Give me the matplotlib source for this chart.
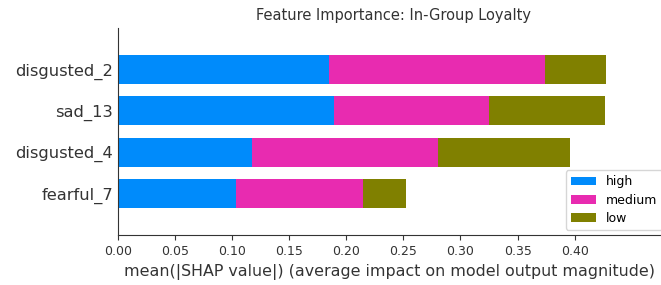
import matplotlib
matplotlib.use("Agg")
import matplotlib.pyplot as plt
import numpy as np

features = ["disgusted_2", "sad_13", "disgusted_4", "fearful_7"]
high = [0.185, 0.1895, 0.1173, 0.1038]
medium = [0.1887, 0.1355, 0.1627, 0.1109]
low = [0.0541, 0.1020, 0.1156, 0.0377]
series_names = ["high", "medium", "low"]
colors = ["#008bfb", "#e82bb0", "#808000"]
xticks = [0.0, 0.05, 0.10, 0.15, 0.20, 0.25, 0.30, 0.35, 0.40]

fig = plt.figure(figsize=(6.61, 2.85), dpi=100)
ax = fig.add_axes([0.1785, 0.175, 0.8325, 0.727])

n = len(features)
ypos = np.arange(n)[::-1]
left = np.zeros(n)
for name, vals, c in zip(series_names, [high, medium, low], colors):
    vals = np.array(vals)
    ax.barh(ypos, vals, left=left, height=0.7, color=c, label=name)
    left += vals

ax.set_ylim(-1, n)
ax.set_xlim(0, 0.482)
ax.set_yticks(ypos)
ax.set_yticklabels(features, fontsize=11.7, color="#333333")
ax.tick_params(axis="y", length=0)
ax.set_xticks(xticks)
ax.set_xticklabels([f"{t:.2f}" for t in xticks], fontsize=9, color="#333333")
ax.tick_params(axis="x", color="#333333", labelcolor="#333333")
for s in ["top", "right"]:
    ax.spines[s].set_visible(False)
ax.spines["left"].set_color("#333333")
ax.spines["bottom"].set_color("#333333")
ax.set_xlabel("mean(|SHAP value|) (average impact on model output magnitude)", fontsize=11.4, color="#333333", labelpad=2)
ax.xaxis.set_label_coords(0.493, -0.14)
ax.set_title("Feature Importance: In-Group Loyalty", fontsize=10.5, color="#333333")
ax.legend(loc="lower right", fontsize=9, frameon=True, bbox_to_anchor=(1.0, -0.005), labelspacing=0.42)

fig.savefig("out.png", dpi=100)
